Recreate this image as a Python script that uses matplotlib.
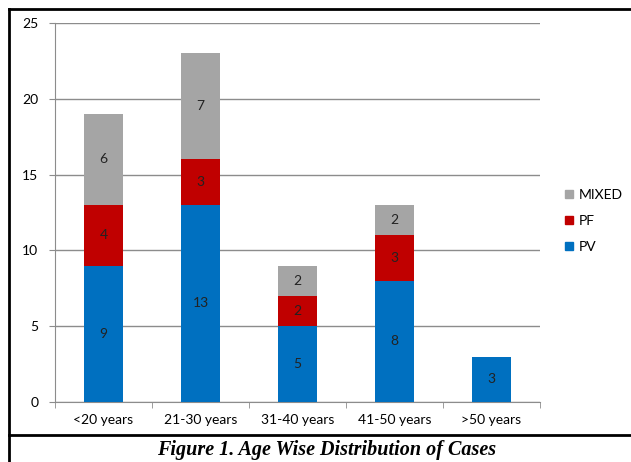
import matplotlib
matplotlib.use("Agg")
import matplotlib.pyplot as plt
from matplotlib.lines import Line2D
import numpy as np

groups = ["<20 years", "21-30 years", "31-40 years", "41-50 years", ">50 years"]
pv = [9, 13, 5, 8, 3]
pf = [4, 3, 2, 3, 0]
mixed = [6, 7, 2, 2, 0]

series = [("PV", pv, "#0070C0"), ("PF", pf, "#C00000"), ("MIXED", mixed, "#A5A5A5")]

W, H = 631, 462
fig = plt.figure(figsize=(W / 100, H / 100), dpi=100)
plt.rcParams["font.family"] = ["Lato", "DejaVu Sans"]

# axes box in pixels: left 55, right 540, top 23, bottom 402
ax = fig.add_axes([55 / W, 1 - 402 / H, (540 - 55) / W, (402 - 23) / H])

x = np.arange(len(groups))
bottom = np.zeros(len(groups))
for name, vals, col in series:
    vals = np.array(vals, dtype=float)
    ax.bar(x, vals, 0.41, bottom=bottom, color=col, zorder=3, label=name)
    for xi, b, v in zip(x, bottom, vals):
        if v > 0:
            ax.text(xi, b + v / 2, str(int(v)), ha="center", va="center",
                    fontsize=10, color="#222222", zorder=4)
    bottom += vals

ax.set_xlim(-0.5, len(groups) - 0.5)
ax.set_ylim(0, 25)
ax.set_yticks(range(0, 26, 5))
ax.yaxis.grid(True, color="#8c8c8c", lw=1, zorder=0)
ax.set_xticks(x)
ax.set_xticklabels(groups, fontsize=10)
ax.set_xticks(np.arange(-0.5, len(groups)), minor=True)
ax.tick_params(axis="x", which="major", length=0, pad=9)
ax.tick_params(axis="x", which="minor", length=4, color="#8c8c8c")
ax.tick_params(axis="y", length=4, color="#8c8c8c", labelsize=10, pad=8)
for s in ["top", "right"]:
    ax.spines[s].set_visible(False)
for s in ["left", "bottom"]:
    ax.spines[s].set_color("#8c8c8c")

# legend, top entry first
leg_handles = [Line2D([], [], marker="s", ls="", color=col, markersize=6)
               for _, _, col in series[::-1]]
leg_labels = [name for name, _, _ in series[::-1]]
fig.legend(leg_handles, leg_labels, loc="center left",
           bbox_to_anchor=(548 / W, 1 - 221 / H), frameon=False,
           fontsize=10, handletextpad=0.1, labelspacing=1.0, handlelength=1.2)

# frame around chart and caption
lw = 2
fig.add_artist(Line2D([9 / W, 9 / W], [0, 1 - 9 / H], color="black", lw=lw,
                      transform=fig.transFigure))
fig.add_artist(Line2D([9 / W, 1], [1 - 9 / H, 1 - 9 / H], color="black", lw=lw,
                      transform=fig.transFigure))
fig.add_artist(Line2D([9 / W, 1], [1 - 435 / H, 1 - 435 / H], color="black", lw=lw,
                      transform=fig.transFigure))

fig.text(327 / W, 1 - 450 / H, "Figure 1. Age Wise Distribution of Cases",
         ha="center", va="center", fontsize=14.5, fontweight="bold",
         fontstyle="italic", family="Liberation Serif")

fig.savefig("out.png", dpi=100)
